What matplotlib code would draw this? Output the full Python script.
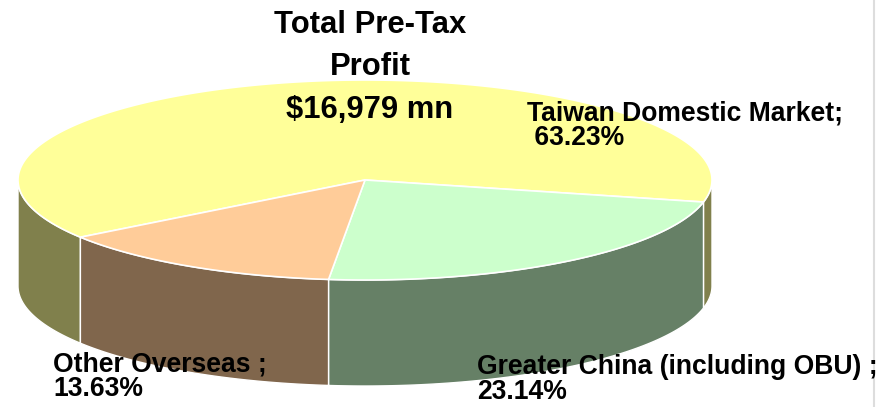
import numpy as np
import matplotlib.pyplot as plt
from matplotlib.patches import Polygon

labels = ['Taiwan Domestic Market;', 'Greater China (including OBU) ;', 'Other Overseas ;']
pct_text = [' 63.23%', '23.14%', '13.63%']
shares = [63.23, 23.14, 13.63]
top_colors = ['#FFFF99', '#CCFFCC', '#FFCC99']
side_colors = ['#80804C', '#668066', '#80664C']
title_lines = ['Total Pre-Tax', 'Profit']
total_text = '$16,979 mn'

# ellipse geometry in pixels
cx, cy, rx, ry, depth = 365, 180, 347, 100, 106
start = 214.9

def pts(t, dz=0):
    t = np.radians(t)
    return np.column_stack([cx + rx*np.cos(t), cy - ry*np.sin(t) + dz])

bounds = start - np.cumsum([0] + shares) * 3.6

fig = plt.figure(figsize=(8.91, 4.07), dpi=100)
ax = fig.add_axes([0, 0, 1, 1])
ax.set_xlim(0, 891)
ax.set_ylim(407, 0)
ax.axis('off')

# side walls (front half only)
for i in range(len(shares)):
    t = np.linspace(bounds[i+1], bounds[i], 600)
    front = np.sin(np.radians(t)) <= 1e-9
    idx = np.where(front)[0]
    if len(idx) == 0:
        continue
    runs = np.split(idx, np.where(np.diff(idx) > 1)[0] + 1)
    for r in runs:
        tt = t[r]
        poly = np.vstack([pts(tt), pts(tt[::-1], depth)])
        ax.add_patch(Polygon(poly, closed=True, fc=side_colors[i], ec='white', lw=1))

# top faces
for i in range(len(shares)):
    t = np.linspace(bounds[i+1], bounds[i], 600)
    poly = np.vstack([[cx, cy], pts(t)])
    ax.add_patch(Polygon(poly, closed=True, fc=top_colors[i], ec='white', lw=1.2))

font = dict(family='Liberation Sans', fontweight='bold', color='black')
ax.text(370, 33, title_lines[0], ha='center', va='baseline', fontsize=22.3, **font)
ax.text(370, 75, title_lines[1], ha='center', va='baseline', fontsize=22.3, **font)
ax.text(370, 118, total_text, ha='center', va='baseline', fontsize=22.3, **font)

# baseline of the second (percentage) line
lab_pos = [(527, 145), (477, 399), (53, 396)]
for i in range(len(shares)):
    x, y = lab_pos[i]
    ax.text(x, y, labels[i] + '\n' + pct_text[i], ha='left', va='baseline',
            fontsize=19.1, linespacing=0.93, **font)

ax.axvline(874, color='#dddddd', lw=1.5)

fig.savefig('out.png', dpi=100)
